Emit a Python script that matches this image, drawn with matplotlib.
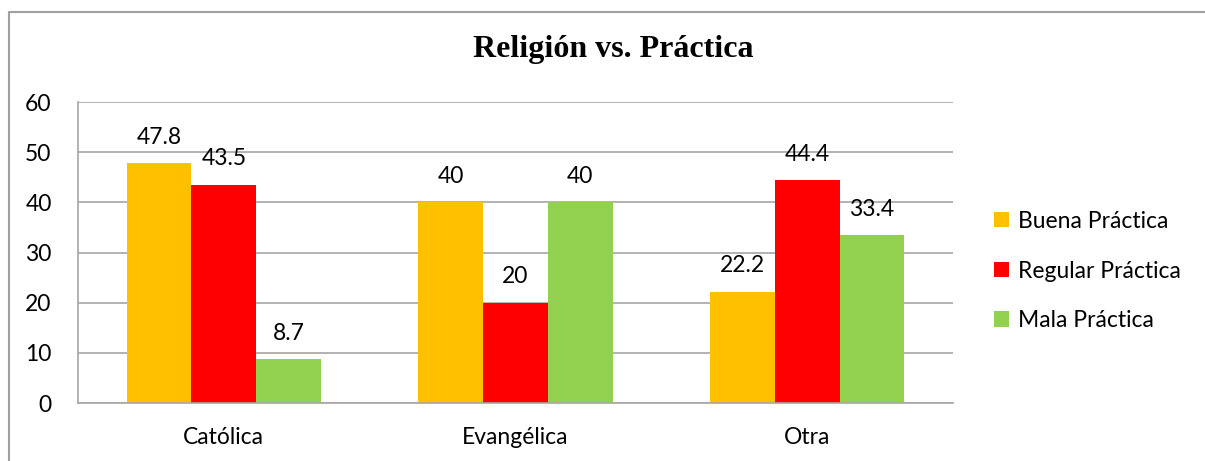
import matplotlib
matplotlib.use("Agg")
import matplotlib.pyplot as plt
from matplotlib.lines import Line2D
import numpy as np

categories = ["Católica", "Evangélica", "Otra"]
series_names = ["Buena Práctica", "Regular Práctica", "Mala Práctica"]
buena = [47.8, 40, 22.2]
regular = [43.5, 20, 44.4]
mala = [8.7, 40, 33.4]
labels = [["47.8", "40", "22.2"], ["43.5", "20", "44.4"], ["8.7", "40", "33.4"]]
colors = ["#FFC000", "#FF0000", "#92D050"]

plt.rcParams['font.family'] = ['Lato', 'DejaVu Sans']
fs = 16.5

W, H = 1205, 461
fig = plt.figure(figsize=(W / 100, H / 100), dpi=100)

# outer chart border, only left and top edges are visible in the crop
bx, by = 9 / W, 1 - 12 / H
fig.add_artist(Line2D([bx, bx, 1.01], [-0.01, by, by], transform=fig.transFigure,
                      color="#A0A0A0", linewidth=1.5))

ax = fig.add_axes([78 / W, 1 - 403 / H, (953 - 78) / W, (403 - 102) / H])

x = np.arange(len(categories))
bw = 0.222
for i, (vals, name, c) in enumerate(zip([buena, regular, mala], series_names, colors)):
    xs = x + (i - 1) * bw
    ax.bar(xs, vals, width=bw, color=c, label=name, zorder=2)
    for xi, v, t in zip(xs, vals, labels[i]):
        ax.annotate(t, (xi, v), xytext=(0, 11), textcoords="offset points",
                    ha="center", va="bottom", fontsize=fs)

ax.set_xlim(-0.5, 2.5)
ax.set_ylim(0, 60)
ax.set_yticks(range(0, 61, 10))
ax.set_xticks(x)
ax.set_xticklabels(categories)
ax.yaxis.grid(True, color="#A6A6A6", linewidth=1.2, zorder=0)
ax.set_axisbelow(True)
for s in ["top", "right"]:
    ax.spines[s].set_visible(False)
for s in ["left", "bottom"]:
    ax.spines[s].set_color("#A6A6A6")
    ax.spines[s].set_linewidth(1.2)
ax.tick_params(axis="both", length=0, labelsize=fs)
ax.tick_params(axis="y", pad=19)
ax.tick_params(axis="x", pad=17)

fig.text(613 / W, 1 - 50 / H, "Religión vs. Práctica", ha="center", va="center",
         fontsize=23, fontweight="bold", family="Liberation Serif")

ax.legend(loc="center left", bbox_to_anchor=(985 / W, 1 - 271 / H),
          bbox_transform=fig.transFigure, frameon=False, fontsize=fs,
          handlelength=0.65, handleheight=0.65, handletextpad=0.4,
          labelspacing=1.25, borderaxespad=0)

fig.savefig("out.png", dpi=100)
